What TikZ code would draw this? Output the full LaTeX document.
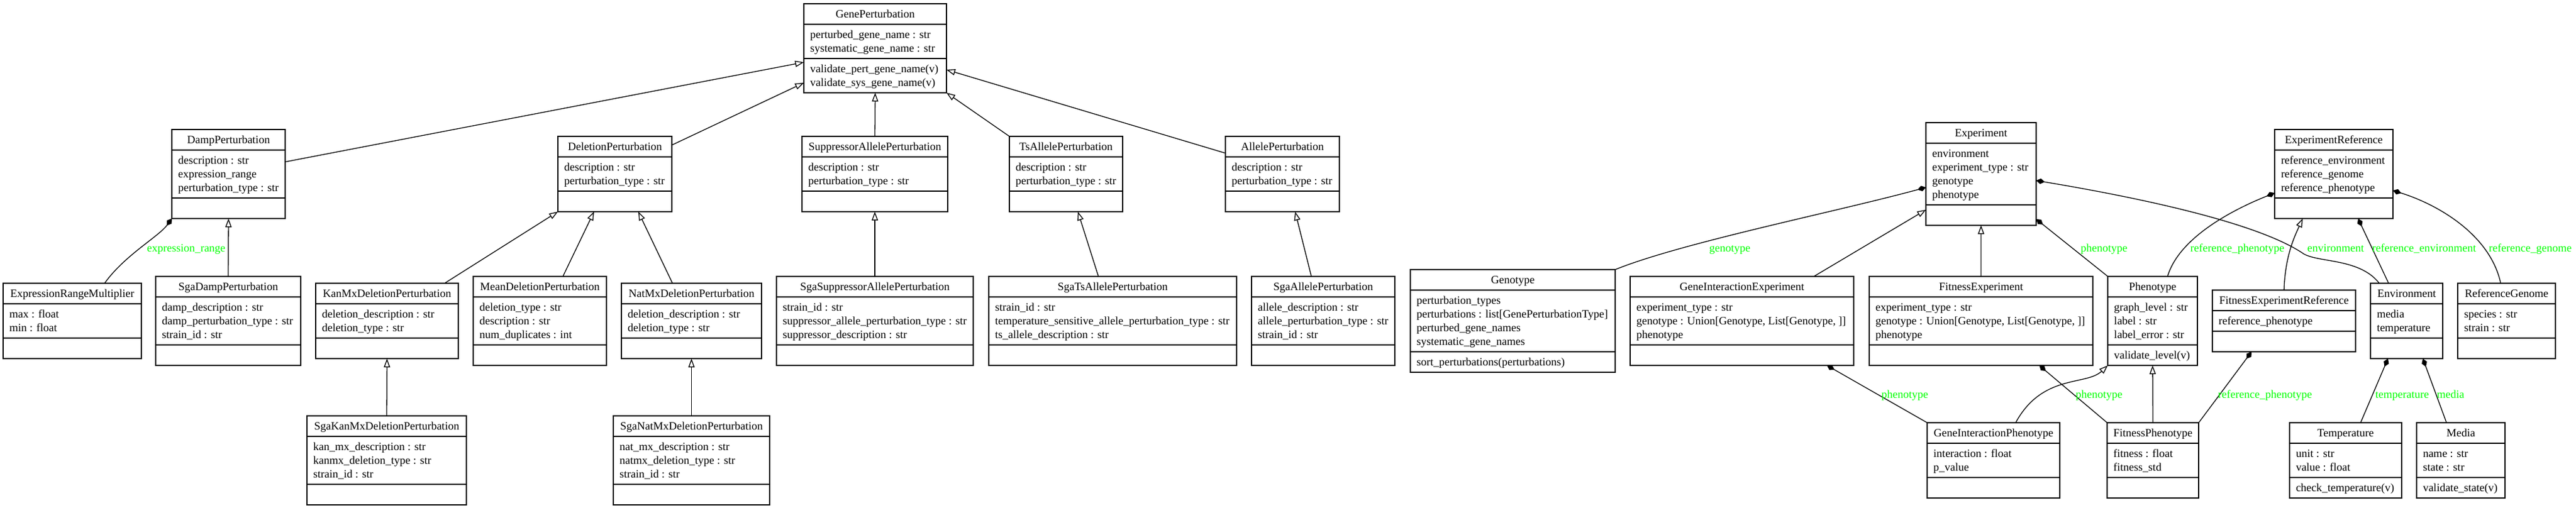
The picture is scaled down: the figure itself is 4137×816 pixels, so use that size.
\documentclass[tikz,border=0pt]{standalone}
\usepackage{fontspec}
\setmainfont{Liberation Serif}
\usetikzlibrary{calc,arrows.meta}
\definecolor{labelgreen}{RGB}{0,255,0}
\tikzset{
  classbox/.style={draw, line width=1.3pt, fill=white, inner sep=0pt, outer sep=0pt, anchor=north west},
  rulestyle/.style={line width=1.3pt},
  gen/.style={line width=1.3pt, -{Triangle[open,length=14pt,width=10pt]}},
  comp/.style={line width=1.3pt, {Diamond[length=14pt,width=9pt]}-},
  lbl/.style={text=labelgreen, inner sep=0pt, anchor=base},
  txt/.style={inner sep=0pt, anchor=base west},
}
% #1 name, #2 left, #3 top, #4 width, #5 title, #6 attrs, #7 n attrs, #8 methods, #9 n methods
\newcommand\umlbox[9]{%
  \pgfmathsetmacro\hA{22*#7+11}%
  \pgfmathsetmacro\hM{max(22*#9+11,33)}%
  \pgfmathsetmacro\hT{33+\hA+\hM}%
  \node[classbox, minimum width=#4pt, minimum height=\hT pt] (#1) at (#2,#3) {};
  \draw[rulestyle] (#2,#3+33) -- ++(#4,0);
  \draw[rulestyle] (#2,#3+33+\hA) -- ++(#4,0);
  \node[inner sep=0pt, anchor=base] (#1-t) at (#2+#4/2, #3+22.5) {#5};
  \foreach \cltxt [count=\cli from 0] in {#6} {\node[txt] (#1-a\cli) at (#2+10, #3+55.5+22*\cli) {\cltxt};}
  \ifnum#9>0
    \foreach \cltxt [count=\cli from 0] in {#8} {\node[txt] (#1-m\cli) at (#2+10, #3+55.5+\hA+22*\cli) {\cltxt};}
  \fi
}
\begin{document}
\begin{tikzpicture}[x=1pt, y=-1pt, font=\fontsize{18pt}{22pt}\selectfont]
\fill[white] (0,0) rectangle (4137,816);
\useasboundingbox (0,0) rectangle (4137,816);

% ---------- classes ----------
\umlbox{genep}{1291}{6}{229}{GenePerturbation}{perturbed\_gene\_name : str, systematic\_gene\_name : str}{2}{validate\_pert\_gene\_name(v), validate\_sys\_gene\_name(v)}{2}

\umlbox{damp}{276}{208}{182}{DampPerturbation}{description : str, expression\_range, perturbation\_type : str}{3}{}{0}
\umlbox{deletion}{896}{219}{183}{DeletionPerturbation}{description : str, perturbation\_type : str}{2}{}{0}
\umlbox{suppressor}{1288}{219}{234}{SuppressorAllelePerturbation}{description : str, perturbation\_type : str}{2}{}{0}
\umlbox{ts}{1621}{219}{182}{TsAllelePerturbation}{description : str, perturbation\_type : str}{2}{}{0}
\umlbox{allele}{1968}{219}{183}{AllelePerturbation}{description : str, perturbation\_type : str}{2}{}{0}
\umlbox{experiment}{3093}{197}{177}{Experiment}{environment, experiment\_type : str, genotype, phenotype}{4}{}{0}
\umlbox{expref}{3653}{208}{190}{ExperimentReference}{reference\_environment, reference\_genome, reference\_phenotype}{3}{}{0}

\umlbox{erm}{5}{455}{222}{ExpressionRangeMultiplier}{max : float, min : float}{2}{}{0}
\umlbox{sgadamp}{250}{444}{233}{SgaDampPerturbation}{damp\_description : str, damp\_perturbation\_type : str, strain\_id : str}{3}{}{0}
\umlbox{kanmx}{507}{455}{229}{KanMxDeletionPerturbation}{deletion\_description : str, deletion\_type : str}{2}{}{0}
\umlbox{meandel}{760}{444}{214}{MeanDeletionPerturbation}{deletion\_type : str, description : str, num\_duplicates : int}{3}{}{0}
\umlbox{natmx}{998}{455}{225}{NatMxDeletionPerturbation}{deletion\_description : str, deletion\_type : str}{2}{}{0}
\umlbox{sgasupp}{1247}{444}{316}{SgaSuppressorAllelePerturbation}{strain\_id : str, suppressor\_allele\_perturbation\_type : str, suppressor\_description : str}{3}{}{0}
\umlbox{sgats}{1588}{444}{398}{SgaTsAllelePerturbation}{strain\_id : str, temperature\_sensitive\_allele\_perturbation\_type : str, ts\_allele\_description : str}{3}{}{0}
\umlbox{sgaallele}{2010}{444}{230}{SgaAllelePerturbation}{allele\_description : str, allele\_perturbation\_type : str, strain\_id : str}{3}{}{0}
\umlbox{genotype}{2265}{433}{329}{Genotype}{perturbation\_types, perturbations : list[GenePerturbationType], perturbed\_gene\_names, systematic\_gene\_names}{4}{sort\_perturbations(perturbations)}{1}
\umlbox{gie}{2618}{444}{359}{GeneInteractionExperiment}{experiment\_type : str, {genotype : Union[Genotype, List[Genotype, ]]}, phenotype}{3}{}{0}
\umlbox{fitexp}{3002}{444}{359}{FitnessExperiment}{experiment\_type : str, {genotype : Union[Genotype, List[Genotype, ]]}, phenotype}{3}{}{0}
\umlbox{phenotype}{3385}{444}{144}{Phenotype}{graph\_level : str, label : str, label\_error : str}{3}{validate\_level(v)}{1}
\umlbox{fitexpref}{3553}{466}{230}{FitnessExperimentReference}{reference\_phenotype}{1}{}{0}
\umlbox{environment}{3807}{455}{116}{Environment}{media, temperature}{2}{}{0}
\umlbox{refgenome}{3947}{455}{157}{ReferenceGenome}{species : str, strain : str}{2}{}{0}

\umlbox{sgakanmx}{493}{668}{256}{SgaKanMxDeletionPerturbation}{kan\_mx\_description : str, kanmx\_deletion\_type : str, strain\_id : str}{3}{}{0}
\umlbox{sganatmx}{985}{668}{251}{SgaNatMxDeletionPerturbation}{nat\_mx\_description : str, natmx\_deletion\_type : str, strain\_id : str}{3}{}{0}
\umlbox{gip}{3095}{679}{213}{GeneInteractionPhenotype}{interaction : float, p\_value}{2}{}{0}
\umlbox{fitpheno}{3384}{679}{147}{FitnessPhenotype}{fitness : float, fitness\_std}{2}{}{0}
\umlbox{temperature}{3677}{679}{180}{Temperature}{unit : str, value : float}{2}{check\_temperature(v)}{1}
\umlbox{media}{3881}{679}{142}{Media}{name : str, state : str}{2}{validate\_state(v)}{1}

% ---------- generalizations ----------
\draw[gen] ($(damp.north east)+(0,52)$) -- ($(genep.north west)+(0,94)$);
\draw[gen] ($(deletion.north east)+(0,14)$) -- ($(genep.north west)+(0,127)$);
\draw[gen] (suppressor.north) -- (genep.south);
\draw[gen] (ts.north west) -- (genep.south east);
\draw[gen] ($(allele.north west)+(0,27)$) -- ($(genep.north east)+(0,106)$);
\draw[gen] (sgadamp.north) -- (damp.south);
\draw[gen] ($(kanmx.north west)+(207,0)$) -- (deletion.south west);
\draw[gen] ($(meandel.north west)+(144,0)$) -- ($(deletion.south west)+(58,0)$);
\draw[gen] ($(natmx.north west)+(82,0)$) -- ($(deletion.south west)+(129,0)$);
\draw[gen] (sgakanmx.north) -- (kanmx.south);
\draw[gen] (sganatmx.north) -- (natmx.south);
\draw[gen] (sgasupp.north) -- (suppressor.south);
\draw[gen] ($(sgats.north west)+(176,0)$) -- ($(ts.south west)+(110,0)$);
\draw[gen] ($(sgaallele.north west)+(96,0)$) -- ($(allele.south west)+(112,0)$);
\draw[gen] ($(gie.north west)+(295,0)$) -- ($(experiment.north west)+(0,140)$);
\draw[gen] (fitexp.north) -- (experiment.south);
\draw[gen] ($(gip.north west)+(142,0)$) .. controls (3280,600) and (3350,620) .. (phenotype.south west);
\draw[gen] (fitpheno.north) -- (phenotype.south);
\draw[gen] (fitexpref.north) .. controls (3670,410) and (3685,380) .. ($(expref.south west)+(45,0)$);

% ---------- compositions ----------
\draw[comp] (damp.south west) .. controls (255,380) and (200,410) .. ($(erm.north west)+(163,0)$);
\draw[comp] ($(experiment.north west)+(0,104)$) .. controls (2950,340) and (2700,390) .. (genotype.north east);
\draw[comp] ($(experiment.south east)+(0,-10)$) -- (phenotype.north west);
\draw[comp] ($(experiment.north east)+(0,93)$) .. controls (3450,320) and (3630,360) .. (3700,408) .. controls (3725,422) and (3790,415) .. ($(environment.north west)+(14,0)$);
\draw[comp] ($(expref.north west)+(0,102)$) .. controls (3590,335) and (3500,380) .. ($(phenotype.north west)+(96,0)$);
\draw[comp] ($(expref.south west)+(134,0)$) -- ($(environment.north west)+(29,0)$);
\draw[comp] ($(expref.north east)+(0,98)$) .. controls (3920,330) and (4000,380) .. ($(refgenome.north west)+(69,0)$);
\draw[comp] ($(gie.south west)+(316,0)$) -- (gip.north west);
\draw[comp] ($(fitexp.south west)+(273,0)$) -- (fitpheno.north west);
\draw[comp] ($(fitexpref.south west)+(63,0)$) -- (fitpheno.north east);
\draw[comp] ($(environment.south west)+(28,0)$) -- ($(temperature.north west)+(114,0)$);
\draw[comp] ($(environment.south west)+(84,0)$) -- ($(media.north west)+(48,0)$);

% ---------- labels ----------
\node[lbl] (l-exprange) at (299,404.5) {expression\_range};
\node[lbl] (l-genotype) at (2778,404.5) {genotype};
\node[lbl] (l-phen1) at (3379,404.5) {phenotype};
\node[lbl] (l-refphen1) at (3593,404.5) {reference\_phenotype};
\node[lbl] (l-env) at (3751,404.5) {environment};
\node[lbl] (l-refenv) at (3893,404.5) {reference\_environment};
\node[lbl] (l-refgen) at (4063.5,404.5) {reference\_genome};
\node[lbl] (l-phen2) at (3059,639.5) {phenotype};
\node[lbl] (l-phen3) at (3371,639.5) {phenotype};
\node[lbl] (l-refphen2) at (3637.6,639.5) {reference\_phenotype};
\node[lbl] (l-temp) at (3857.7,639.5) {temperature};
\node[lbl] (l-media) at (3935.6,639.5) {media};
\end{tikzpicture}
\end{document}
